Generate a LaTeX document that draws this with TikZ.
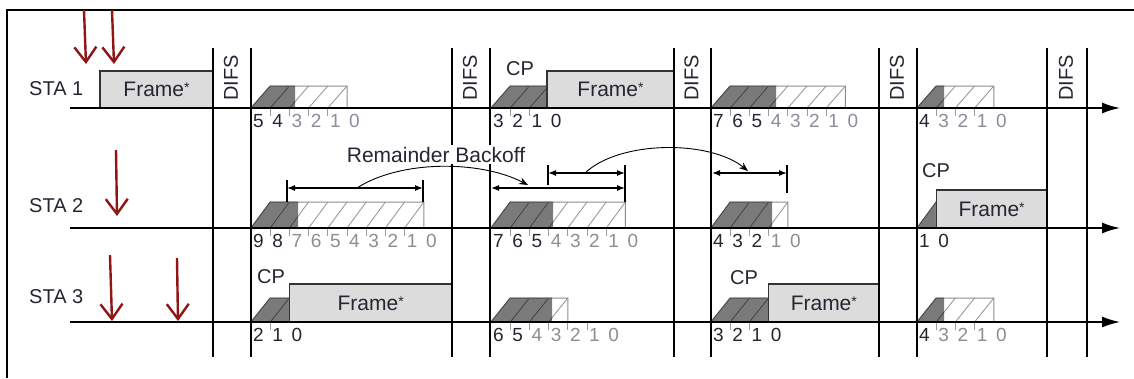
\documentclass[tikz,border=0pt]{standalone}
\usepackage{fontspec}
\setmainfont{Liberation Sans}
\usetikzlibrary{arrows.meta}
\definecolor{darkfill}{HTML}{7A7A7A}
\definecolor{framefill}{HTML}{DCDCDC}
\definecolor{redarr}{HTML}{8E1616}
\definecolor{txt}{HTML}{262633}
\definecolor{diglight}{HTML}{8A8E99}
\definecolor{hatchc}{HTML}{9C9C9C}
\newcommand\slotw{19.2}
\newcommand\fstar{\raisebox{0.35ex}{\fontsize{14}{14}\selectfont*}}
% backoff block: x0, axis y, height, slots, dark end x
\newcommand\bko[5]{%
  \pgfmathsetmacro\bkxe{#1+#4*\slotw}%
  \pgfmathsetmacro\bkxt{#1+\slotw}%
  \pgfmathsetmacro\bkyt{#2-#3}%
  \fill[darkfill] (#1,#2) -- (\bkxt,\bkyt) -- (#5,\bkyt) -- (#5,#2) -- cycle;
  \ifnum#4>1
    \foreach \i in {2,...,#4} {\draw[hatchline] ({#1+(\i-1)*\slotw},#2) -- ({#1+\i*\slotw},\bkyt);}
    \begin{scope}
      \clip (#1,#2) -- (\bkxt,\bkyt) -- (#5,\bkyt) -- (#5,#2) -- cycle;
      \foreach \i in {2,...,#4} {\draw[hatchdark] ({#1+(\i-1)*\slotw},#2) -- ({#1+\i*\slotw},\bkyt);}
    \end{scope}
  \fi
  \draw[blockline] (#1,#2) -- (\bkxt,\bkyt) -- (\bkxe,\bkyt) -- (\bkxe,#2);
  \draw[darkedge] (#1,#2) -- (\bkxt,\bkyt) -- (#5,\bkyt);
}
% digits: name prefix, x0, axis y, start number, dark digits
\newcommand\digs[5]{%
  \foreach \i in {0,...,#4} {%
    \pgfmathtruncatemacro\dv{#4-\i}%
    \ifnum\i<#5 \def\dcol{txt}\else\def\dcol{diglight}\fi
    \node[digit,text=\dcol] (#1-\i) at ({#2+\i*\slotw+7.5},#3+13) {\dv};
  }%
  \ifnum#4>1
    \pgfmathtruncatemacro\dlast{#4-1}%
    \foreach \i in {1,...,\dlast} {\draw[tickmark] ({#2+\i*\slotw},#3) -- ({#2+\i*\slotw},#3+8);}
  \fi
}
\begin{document}
\begin{tikzpicture}[x=1pt,y=-1pt,
  lbl/.style={font=\fontsize{20}{24}\selectfont, text=txt, inner sep=0pt},
  framelbl/.style={font=\fontsize{21}{24}\selectfont, text=txt, inner sep=0pt},
  digit/.style={font=\fontsize{19}{22}\selectfont, inner sep=0pt},
  framebox/.style={fill=framefill, draw=black!80, line width=1.4pt},
  hatchline/.style={draw=hatchc, line width=0.9pt},
  hatchdark/.style={draw=black!75, line width=0.9pt},
  blockline/.style={draw=black!45, line width=1pt},
  darkedge/.style={draw=black!70, line width=1pt},
  tickmark/.style={draw=hatchc, line width=0.8pt},
  axisline/.style={line width=1.6pt, -{Latex[length=18pt,width=11pt]}},
  vline/.style={line width=1.6pt},
  redarrow/.style={draw=redarr, line width=2.4pt, -{Straight Barb[length=15pt,width=22pt]}},
  dblarrow/.style={line width=1.2pt, {Latex[length=8pt,width=6pt]}-{Latex[length=8pt,width=6pt]}},
  barline/.style={line width=1.4pt},
  curvearrow/.style={line width=0.9pt, -{Stealth[length=9pt,width=7pt]}}
]
\useasboundingbox (0,0) rectangle (1134,378);
\fill[white] (0,0) rectangle (1134,378);
% outer frame
\draw[line width=1.5pt] (7,378) -- (7,10) -- (1134,10);

% ---------- STA 1 ----------
\node[lbl, anchor=base west] (sta1) at (29,95) {STA 1};
\draw[framebox] (100,108) rectangle (213,71);
\node[framelbl] (f11) at (156.5,89.5) {Frame\fstar};
\bko{251}{108}{22}{5}{295}
\digs{s1a}{251}{108}{5}{2}
\bko{491}{108}{22}{3}{548}
\draw[framebox] (547,108) rectangle (674,71);
\node[framelbl] (f12) at (610.5,89.5) {Frame\fstar};
\node[lbl, anchor=base] (cp1) at (520,75) {CP};
\digs{s1b}{491}{108}{3}{4}
\bko{711}{108}{22}{7}{776}
\digs{s1c}{711}{108}{7}{3}
\bko{917}{108}{22}{4}{944}
\digs{s1d}{917}{108}{4}{1}

% ---------- STA 2 ----------
\node[lbl, anchor=base west] (sta2) at (29,212) {STA 2};
\bko{251}{228}{26}{9}{298}
\digs{s2a}{251}{228}{9}{2}
\bko{491}{228}{26}{7}{553}
\digs{s2b}{491}{228}{7}{3}
\bko{711}{228}{26}{4}{772}
\digs{s2c}{711}{228}{4}{3}
\bko{917}{228}{26}{1}{936.2}
\draw[framebox] (936.2,228) rectangle (1047,190);
\node[framelbl] (f21) at (991.6,209) {Frame\fstar};
\node[lbl, anchor=base] (cp2) at (936,177) {CP};
\digs{s2d}{917}{228}{1}{2}

% ---------- STA 3 ----------
\node[lbl, anchor=base west] (sta3) at (29,303) {STA 3};
\bko{251}{322}{24}{2}{289.4}
\draw[framebox] (289.4,322) rectangle (452,284);
\node[framelbl] (f31) at (370.7,303) {Frame\fstar};
\node[lbl, anchor=base] (cp3) at (271,283) {CP};
\digs{s3a}{251}{322}{2}{3}
\bko{491}{322}{24}{4}{552}
\digs{s3b}{491}{322}{6}{2}
\bko{711}{322}{24}{3}{768.6}
\draw[framebox] (768.6,322) rectangle (879,284);
\node[framelbl] (f32) at (823.8,303) {Frame\fstar};
\node[lbl, anchor=base] (cp4) at (744,284) {CP};
\digs{s3c}{711}{322}{3}{4}
\bko{917}{322}{24}{4}{944}
\digs{s3d}{917}{322}{4}{1}

% ---------- axes ----------
\coordinate (ax1s) at (70,108); \coordinate (ax1e) at (1120,108);
\coordinate (ax2s) at (70,228); \coordinate (ax2e) at (1120,228);
\coordinate (ax3s) at (70,322); \coordinate (ax3e) at (1120,322);
\draw[axisline] (ax1s) -- (ax1e);
\draw[axisline] (ax2s) -- (ax2e);
\draw[axisline] (ax3s) -- (ax3e);

% ---------- DIFS lines ----------
\foreach \xa/\xb [count=\k] in {213/251, 452/490, 674/711, 879/917, 1047/1087} {
  \draw[vline] (\xa,48) -- (\xa,357);
  \draw[vline] (\xb,48) -- (\xb,357);
  \node[lbl, rotate=90] (difs\k) at ({(\xa+\xb)/2-1},78) {DIFS};
}

% ---------- remainder backoff markers (STA 2) ----------
\node[lbl, font=\fontsize{21}{24}\selectfont, anchor=base, fill=white,
      inner xsep=2pt, inner ysep=2pt] (rb) at (436,162) {Remainder Backoff};
\coordinate (a1l) at (287,188); \coordinate (a1r) at (423,188);
\draw[barline] (287,180) -- (287,202);
\draw[barline] (423,180) -- (423,202);
\draw[dblarrow] (a1l) -- (a1r);
\coordinate (a2l) at (491,188); \coordinate (a2r) at (625,188);
\coordinate (a3l) at (548,173); \coordinate (a3r) at (625,173);
\draw[barline] (625,165) -- (625,202);
\draw[barline] (548,165) -- (548,185);
\draw[dblarrow] (a2l) -- (a2r);
\draw[dblarrow] (a3l) -- (a3r);
\coordinate (a4l) at (712,173); \coordinate (a4r) at (787,173);
\draw[barline] (787,165) -- (787,193);
\draw[dblarrow] (a4l) -- (a4r);
\coordinate (c1s) at (357,188); \coordinate (c1e) at (528,185);
\draw[curvearrow] (c1s) .. controls (400,160) and (480,160) .. (c1e);
\coordinate (c2s) at (585,173); \coordinate (c2e) at (748,171);
\draw[curvearrow] (c2s) .. controls (620,140) and (710,140) .. (c2e);

% ---------- red arrows ----------
\coordinate (r1a) at (84,10);  \coordinate (r1b) at (86,64);
\coordinate (r2a) at (112,10); \coordinate (r2b) at (114,64);
\coordinate (r3a) at (116,150); \coordinate (r3b) at (117,216);
\coordinate (r4a) at (110,255); \coordinate (r4b) at (112,321);
\coordinate (r5a) at (177,258); \coordinate (r5b) at (178,321);
\draw[redarrow] (r1a) -- (r1b);
\draw[redarrow] (r2a) -- (r2b);
\draw[redarrow] (r3a) -- (r3b);
\draw[redarrow] (r4a) -- (r4b);
\draw[redarrow] (r5a) -- (r5b);
\end{tikzpicture}
\end{document}
